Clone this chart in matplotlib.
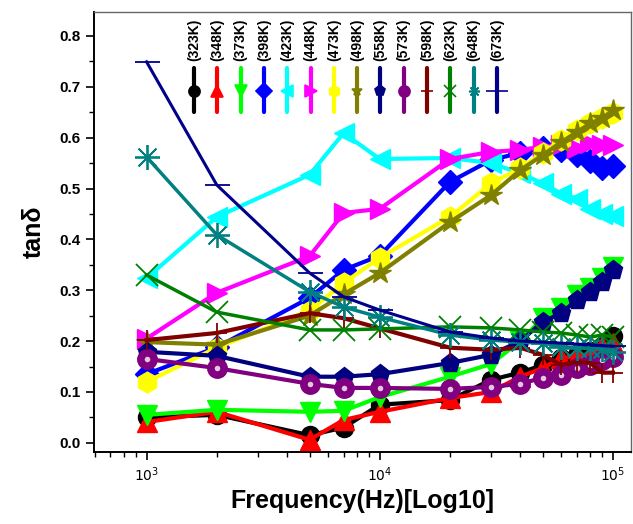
import numpy as np
import matplotlib
matplotlib.use("Agg")
import matplotlib.pyplot as plt
from matplotlib.ticker import LogLocator, FixedLocator, MultipleLocator, NullFormatter

plt.rcParams['font.family'] = ['Liberation Sans', 'DejaVu Sans']

freq = [1e3, 2e3, 5e3, 7e3, 1e4, 2e4, 3e4, 4e4, 5e4, 6e4, 7e4, 8e4, 9e4, 1e5]

labels = ['(323K)', '(348K)', '(373K)', '(398K)', '(423K)', '(448K)', '(473K)',
          '(498K)', '(558K)', '(573K)', '(598K)', '(623K)', '(648K)', '(673K)']

t323 = [0.050, 0.055, 0.015, 0.030, 0.075, 0.084, 0.124, 0.138, 0.153, 0.167, 0.173, 0.180, 0.190, 0.210]
t348 = [0.041, 0.061, 0.006, 0.045, 0.061, 0.088, 0.100, 0.130, 0.147, 0.167, 0.170, 0.175, 0.190, 0.196]
t373 = [0.055, 0.065, 0.061, 0.063, 0.090, 0.130, 0.155, 0.200, 0.245, 0.265, 0.290, 0.305, 0.325, 0.345]
t398 = [0.135, 0.188, 0.285, 0.340, 0.368, 0.513, 0.556, 0.570, 0.580, 0.575, 0.565, 0.555, 0.540, 0.545]
t423 = [0.324, 0.444, 0.527, 0.609, 0.558, 0.560, 0.550, 0.530, 0.510, 0.490, 0.480, 0.460, 0.450, 0.445]
t448 = [0.205, 0.295, 0.367, 0.452, 0.460, 0.558, 0.572, 0.576, 0.582, 0.585, 0.580, 0.590, 0.585, 0.585]
t473 = [0.120, 0.187, 0.260, 0.314, 0.364, 0.444, 0.510, 0.540, 0.570, 0.595, 0.615, 0.628, 0.638, 0.648]
t498 = [0.198, 0.193, 0.250, 0.292, 0.334, 0.434, 0.487, 0.536, 0.566, 0.591, 0.611, 0.628, 0.638, 0.654]
t558 = [0.179, 0.171, 0.130, 0.130, 0.135, 0.157, 0.173, 0.200, 0.238, 0.255, 0.281, 0.297, 0.316, 0.340]
t573 = [0.165, 0.147, 0.116, 0.108, 0.108, 0.106, 0.110, 0.116, 0.128, 0.134, 0.147, 0.153, 0.163, 0.169]
t598 = [0.202, 0.216, 0.255, 0.245, 0.225, 0.187, 0.183, 0.187, 0.173, 0.153, 0.159, 0.157, 0.138, 0.138]
t623 = [0.330, 0.257, 0.222, 0.222, 0.224, 0.228, 0.226, 0.222, 0.218, 0.216, 0.212, 0.208, 0.212, 0.208]
t648 = [0.562, 0.409, 0.297, 0.267, 0.247, 0.212, 0.202, 0.198, 0.196, 0.189, 0.187, 0.186, 0.185, 0.179]
t673 = [0.749, 0.507, 0.334, 0.287, 0.261, 0.218, 0.206, 0.200, 0.198, 0.196, 0.194, 0.193, 0.191, 0.190]

series = [t323, t348, t373, t398, t423, t448, t473, t498, t558, t573, t598, t623, t648, t673]

colors = ['black', 'red', '#00ff00', 'blue', 'cyan', 'magenta', 'yellow', '#808000',
          '#000080', '#800080', '#800000', '#008000', '#008080', '#00008b']
markers = ['o', '^', 'v', 'D', '<', '>', 'h', '*', 'p', 'o', '+', 'x', (8, 2, 0), '_']
msizes = [13, 15, 15, 12, 15, 15, 15, 16, 14, 14, 14, 16, 18, 18]
lwidths = [3, 3, 3, 3, 3, 3, 3, 3, 3, 3, 3, 2.5, 2.5, 2.2]

fig = plt.figure(figsize=(6.33, 5.24), dpi=100)
ax = fig.add_axes([94 / 633, 1 - 452 / 524, 537 / 633, 440 / 524])

for i, ys in enumerate(series):
    thin = markers[i] in ('+', 'x', '_') or isinstance(markers[i], tuple)
    ax.plot(freq, ys, color=colors[i], lw=lwidths[i], marker=markers[i], ms=msizes[i],
            mec=colors[i], mfc=colors[i], mew=1.3 if thin else 1.0, zorder=2 + i)
    if i == 9:
        # shiny ball look
        ax.plot(freq, ys, ls='none', marker='o', ms=4, mfc='#e0c8e0', mec='none', zorder=2 + i)

ax.set_xscale('log')
ax.set_xlim(595, 119500)
ax.set_ylim(-0.018, 0.847)

ax.xaxis.set_major_locator(FixedLocator([1e3, 1e4, 1e5]))
ax.set_xticklabels([r'$10^3$', r'$10^4$', r'$10^5$'])
ax.xaxis.set_minor_locator(LogLocator(base=10, subs=np.arange(2, 10)))
ax.xaxis.set_minor_formatter(NullFormatter())
ax.yaxis.set_minor_locator(MultipleLocator(0.05))
ax.set_yticks(np.arange(0, 0.81, 0.1))
ax.set_yticklabels(['%.1f' % v for v in np.arange(0, 0.81, 0.1)])

ax.tick_params(axis='both', which='major', direction='out', length=6, width=1.2)
ax.tick_params(axis='both', which='minor', direction='out', length=3.5, width=1.0)
ax.tick_params(top=False, right=False)
for lab in ax.get_yticklabels():
    lab.set_fontsize(11)
    lab.set_fontweight('bold')
for lab in ax.get_xticklabels():
    lab.set_fontsize(10)

for s in ['left', 'bottom']:
    ax.spines[s].set_linewidth(1.4)
    ax.spines[s].set_color('black')
for s in ['top', 'right']:
    ax.spines[s].set_linewidth(1.0)
    ax.spines[s].set_color('#666666')

ax.set_xlabel('Frequency(Hz)[Log10]', fontsize=18, fontweight='bold', labelpad=4)
ax.set_ylabel('tan\u03b4', fontsize=18, fontweight='bold', labelpad=10)

# vertical legend along the top
x0 = (194 - 94) / 537
dx = 23.3 / 537
for i, lab in enumerate(labels):
    xp = x0 + i * dx
    ax.text(xp, 0.9375, lab, rotation=90, ha='center', va='center', fontsize=10,
            fontweight='bold', transform=ax.transAxes, zorder=30)
    ax.plot([xp, xp], [0.773, 0.873], color=colors[i], lw=3, transform=ax.transAxes,
            solid_capstyle='round', zorder=30, clip_on=False)
    ax.plot([xp], [0.82], marker=markers[i], ms=8 if markers[i] != '_' else 16,
            color=colors[i], mew=1.2, transform=ax.transAxes, zorder=31, clip_on=False)

fig.savefig('out.png', dpi=100)
